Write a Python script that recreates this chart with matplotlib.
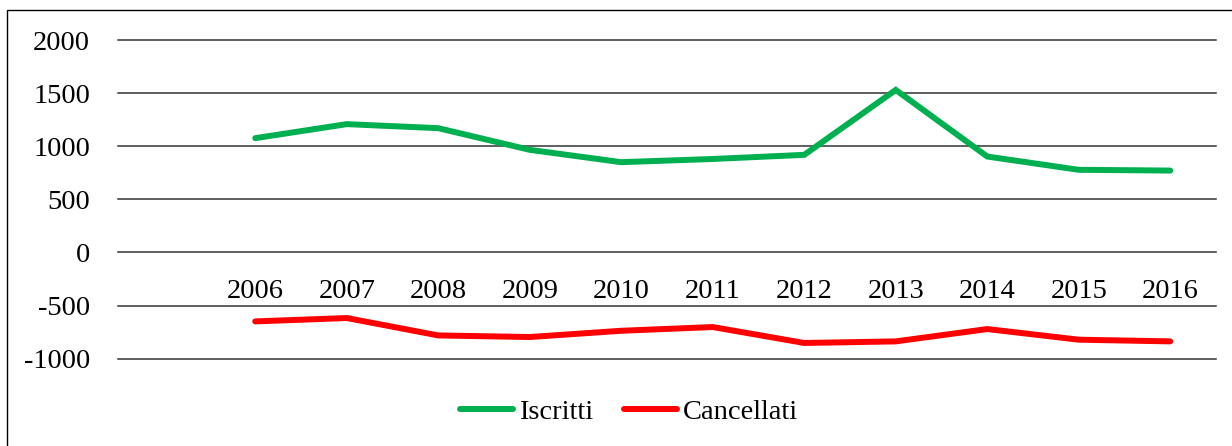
import matplotlib
matplotlib.use("Agg")
import matplotlib.pyplot as plt
from matplotlib.patches import Rectangle

years = ["2006", "2007", "2008", "2009", "2010", "2011",
         "2012", "2013", "2014", "2015", "2016"]
iscritti = [1076, 1208, 1170, 966, 850, 880, 919, 1530, 903, 778, 771]
cancellati = [-649, -617, -781, -796, -737, -702, -852, -837, -721, -821, -837]

plt.rcParams["font.family"] = ["Liberation Serif", "DejaVu Serif"]
plt.rcParams["axes.unicode_minus"] = False

W, H = 1232, 446
fig = plt.figure(figsize=(W / 100, H / 100), dpi=100)
ax = fig.add_axes([118 / W, 1 - 358.7 / H, (1216 - 118) / W, (358.7 - 40) / H])

xs = list(range(len(years)))
ax.plot(xs, iscritti, color="#00B050", lw=4.3, solid_capstyle="round",
        solid_joinstyle="miter", label="Iscritti", zorder=3)
ax.plot(xs, cancellati, color="#FF0000", lw=4.3, solid_capstyle="round",
        solid_joinstyle="miter", label="Cancellati", zorder=3)

# first category slot in the original is empty
ax.set_xlim(-1.5, len(years) - 0.5)
ax.set_ylim(-1000, 2000)
ax.set_yticks(range(-1000, 2001, 500))
ax.yaxis.grid(True, color="#333333", lw=1.1)
ax.set_axisbelow(True)
for ln in ax.get_ygridlines():
    ln.set_clip_on(False)

for s in ["top", "right", "left"]:
    ax.spines[s].set_visible(False)
ax.spines["bottom"].set_position(("data", 0))
ax.spines["bottom"].set_visible(False)

ax.set_xticks(xs)
ax.set_xticklabels(years)
ax.tick_params(axis="x", length=0, pad=19, labelsize=20.5)
ax.tick_params(axis="y", length=0, pad=20, labelsize=20.5)

fig.legend(loc="center", bbox_to_anchor=(629 / W, 1 - 412 / H), ncol=2,
           frameon=False, fontsize=20.5, handlelength=1.85, handletextpad=0.2,
           columnspacing=1.1)

fig.patches.append(Rectangle((7 / W, -0.1), 1.2, 1.1 - 10 / H,
                             transform=fig.transFigure, fill=False,
                             edgecolor="black", lw=1.0))

fig.savefig("out.png", dpi=100)
